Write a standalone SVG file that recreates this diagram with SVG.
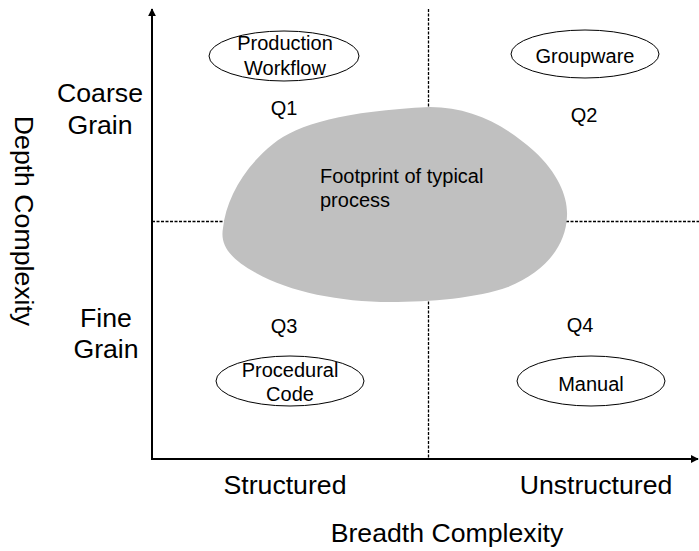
<svg xmlns="http://www.w3.org/2000/svg" width="699" height="551" viewBox="0 0 699 551">
<style>
text{font-family:"Liberation Sans",Arial,sans-serif;fill:#000}
.s{font-size:20px}
.l{font-size:26.67px}
.m{text-anchor:middle}
.dash{stroke:#000;stroke-width:1.3;stroke-dasharray:3,1.5;fill:none}
.axis{stroke:#000;stroke-width:2;fill:none}
.node{fill:#fff;stroke:#000;stroke-width:1}
</style>
<defs>
<marker id="arr" viewBox="0 0 10 10" refX="9" refY="5" markerWidth="4" markerHeight="4" orient="auto" markerUnits="strokeWidth">
<path d="M0,0 L10,5 L0,10 z" fill="#000"/>
</marker>
</defs>
<rect width="699" height="551" fill="#fff"/>
<g id="connectors">
<line class="dash" x1="428.5" y1="9" x2="428.5" y2="459"/>
<line class="dash" x1="152" y1="221.5" x2="699" y2="221.5"/>
<line class="axis" x1="152" y1="460" x2="152" y2="9" marker-end="url(#arr)"/>
<line class="axis" x1="151" y1="459" x2="698" y2="459" marker-end="url(#arr)"/>
</g>
<g id="footprint">
<path d="M430,107 C470,107 504,124 534,151 C559,174 568,198 567,216 C566,246 545,272 508,287 C478,298 430,302 390,302 C340,302 290,292 256,273 C229,258 220,245 223,228 C226,200 243,168 273,144 C298,124 345,111 430,107 Z" fill="#c0c0c0"/>
<text class="s" x="320" y="183">Footprint of typical</text>
<text class="s" x="320" y="207">process</text>
</g>
<g id="production-workflow">
<ellipse class="node" cx="284" cy="56" rx="75" ry="25"/>
<text class="s m" x="285" y="50">Production</text>
<text class="s m" x="285" y="75">Workflow</text>
</g>
<g id="groupware">
<ellipse class="node" cx="585" cy="54" rx="74" ry="24"/>
<text class="s m" x="585" y="63">Groupware</text>
</g>
<g id="procedural-code">
<ellipse class="node" cx="290" cy="381" rx="74" ry="25"/>
<text class="s m" x="290" y="377">Procedural</text>
<text class="s m" x="290" y="401">Code</text>
</g>
<g id="manual">
<ellipse class="node" cx="591" cy="381" rx="74" ry="25"/>
<text class="s m" x="591" y="391">Manual</text>
</g>
<g id="quadrant-labels">
<text class="s m" x="284" y="115">Q1</text>
<text class="s m" x="584" y="122">Q2</text>
<text class="s m" x="284" y="333">Q3</text>
<text class="s m" x="580" y="332">Q4</text>
</g>
<g id="axis-labels">
<text class="l m" x="100" y="102">Coarse</text>
<text class="l m" x="100" y="134">Grain</text>
<text class="l m" x="106" y="327">Fine</text>
<text class="l m" x="106" y="358">Grain</text>
<text class="l m" transform="translate(15,221) rotate(90)">Depth Complexity</text>
<text class="l m" x="285" y="494">Structured</text>
<text class="l m" x="596" y="494">Unstructured</text>
<text class="l m" x="447" y="542">Breadth Complexity</text>
</g>
</svg>
